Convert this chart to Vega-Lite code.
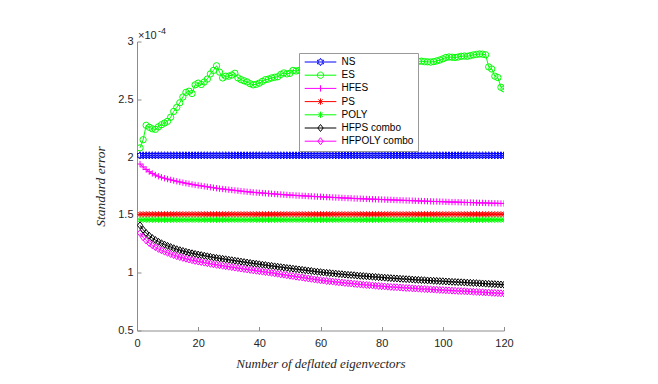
{
"$schema": "https://vega.github.io/schema/vega-lite/v6.json",
"width": 367, "height": 289,
"autosize": "none",
"padding": {"left": 137, "top": 41.5, "right": 154, "bottom": 53.5},
"background": "white",
"config": {"view": {"stroke": null}, "font": "Liberation Sans"},
"data": {"values": [
{"x":1,"NS":2.015,"ES":2.080,"HFES":1.940,"PS":1.505,"POLY":1.458,"HFPS combo":1.410,"HFPOLY combo":1.343},
{"x":2,"NS":2.015,"ES":2.150,"HFES":1.915,"PS":1.505,"POLY":1.458,"HFPS combo":1.372,"HFPOLY combo":1.306},
{"x":3,"NS":2.015,"ES":2.275,"HFES":1.893,"PS":1.505,"POLY":1.458,"HFPS combo":1.343,"HFPOLY combo":1.278},
{"x":4,"NS":2.015,"ES":2.258,"HFES":1.874,"PS":1.505,"POLY":1.458,"HFPS combo":1.320,"HFPOLY combo":1.256},
{"x":5,"NS":2.015,"ES":2.245,"HFES":1.858,"PS":1.505,"POLY":1.458,"HFPS combo":1.300,"HFPOLY combo":1.237},
{"x":6,"NS":2.015,"ES":2.240,"HFES":1.845,"PS":1.505,"POLY":1.458,"HFPS combo":1.283,"HFPOLY combo":1.221},
{"x":7,"NS":2.015,"ES":2.262,"HFES":1.834,"PS":1.505,"POLY":1.458,"HFPS combo":1.268,"HFPOLY combo":1.206},
{"x":8,"NS":2.015,"ES":2.280,"HFES":1.825,"PS":1.505,"POLY":1.458,"HFPS combo":1.255,"HFPOLY combo":1.194},
{"x":9,"NS":2.015,"ES":2.295,"HFES":1.817,"PS":1.505,"POLY":1.458,"HFPS combo":1.243,"HFPOLY combo":1.182},
{"x":10,"NS":2.015,"ES":2.310,"HFES":1.810,"PS":1.505,"POLY":1.458,"HFPS combo":1.232,"HFPOLY combo":1.172},
{"x":11,"NS":2.015,"ES":2.345,"HFES":1.803,"PS":1.505,"POLY":1.458,"HFPS combo":1.222,"HFPOLY combo":1.162},
{"x":12,"NS":2.015,"ES":2.395,"HFES":1.797,"PS":1.505,"POLY":1.458,"HFPS combo":1.212,"HFPOLY combo":1.152},
{"x":13,"NS":2.015,"ES":2.430,"HFES":1.791,"PS":1.505,"POLY":1.458,"HFPS combo":1.203,"HFPOLY combo":1.143},
{"x":14,"NS":2.015,"ES":2.470,"HFES":1.785,"PS":1.505,"POLY":1.458,"HFPS combo":1.195,"HFPOLY combo":1.135},
{"x":15,"NS":2.015,"ES":2.520,"HFES":1.779,"PS":1.505,"POLY":1.458,"HFPS combo":1.188,"HFPOLY combo":1.128},
{"x":16,"NS":2.015,"ES":2.560,"HFES":1.774,"PS":1.505,"POLY":1.458,"HFPS combo":1.181,"HFPOLY combo":1.121},
{"x":17,"NS":2.015,"ES":2.570,"HFES":1.769,"PS":1.505,"POLY":1.458,"HFPS combo":1.174,"HFPOLY combo":1.114},
{"x":18,"NS":2.015,"ES":2.550,"HFES":1.764,"PS":1.505,"POLY":1.458,"HFPS combo":1.168,"HFPOLY combo":1.108},
{"x":19,"NS":2.015,"ES":2.625,"HFES":1.759,"PS":1.505,"POLY":1.458,"HFPS combo":1.162,"HFPOLY combo":1.102},
{"x":20,"NS":2.015,"ES":2.640,"HFES":1.755,"PS":1.505,"POLY":1.458,"HFPS combo":1.157,"HFPOLY combo":1.097},
{"x":21,"NS":2.015,"ES":2.628,"HFES":1.751,"PS":1.505,"POLY":1.458,"HFPS combo":1.152,"HFPOLY combo":1.092},
{"x":22,"NS":2.015,"ES":2.650,"HFES":1.747,"PS":1.505,"POLY":1.458,"HFPS combo":1.147,"HFPOLY combo":1.087},
{"x":23,"NS":2.015,"ES":2.675,"HFES":1.743,"PS":1.505,"POLY":1.458,"HFPS combo":1.142,"HFPOLY combo":1.082},
{"x":24,"NS":2.015,"ES":2.720,"HFES":1.739,"PS":1.505,"POLY":1.458,"HFPS combo":1.137,"HFPOLY combo":1.077},
{"x":25,"NS":2.015,"ES":2.750,"HFES":1.735,"PS":1.505,"POLY":1.458,"HFPS combo":1.132,"HFPOLY combo":1.072},
{"x":26,"NS":2.015,"ES":2.790,"HFES":1.731,"PS":1.505,"POLY":1.458,"HFPS combo":1.128,"HFPOLY combo":1.068},
{"x":27,"NS":2.015,"ES":2.735,"HFES":1.727,"PS":1.505,"POLY":1.458,"HFPS combo":1.124,"HFPOLY combo":1.064},
{"x":28,"NS":2.015,"ES":2.685,"HFES":1.724,"PS":1.505,"POLY":1.458,"HFPS combo":1.120,"HFPOLY combo":1.060},
{"x":29,"NS":2.015,"ES":2.700,"HFES":1.721,"PS":1.505,"POLY":1.458,"HFPS combo":1.116,"HFPOLY combo":1.056},
{"x":30,"NS":2.015,"ES":2.700,"HFES":1.718,"PS":1.505,"POLY":1.458,"HFPS combo":1.112,"HFPOLY combo":1.052},
{"x":31,"NS":2.015,"ES":2.710,"HFES":1.715,"PS":1.505,"POLY":1.458,"HFPS combo":1.108,"HFPOLY combo":1.048},
{"x":32,"NS":2.015,"ES":2.725,"HFES":1.712,"PS":1.505,"POLY":1.458,"HFPS combo":1.104,"HFPOLY combo":1.044},
{"x":33,"NS":2.015,"ES":2.685,"HFES":1.709,"PS":1.505,"POLY":1.458,"HFPS combo":1.100,"HFPOLY combo":1.040},
{"x":34,"NS":2.015,"ES":2.670,"HFES":1.706,"PS":1.505,"POLY":1.458,"HFPS combo":1.096,"HFPOLY combo":1.036},
{"x":35,"NS":2.015,"ES":2.660,"HFES":1.703,"PS":1.505,"POLY":1.458,"HFPS combo":1.092,"HFPOLY combo":1.032},
{"x":36,"NS":2.015,"ES":2.650,"HFES":1.700,"PS":1.505,"POLY":1.458,"HFPS combo":1.088,"HFPOLY combo":1.028},
{"x":37,"NS":2.015,"ES":2.635,"HFES":1.698,"PS":1.505,"POLY":1.458,"HFPS combo":1.084,"HFPOLY combo":1.024},
{"x":38,"NS":2.015,"ES":2.625,"HFES":1.695,"PS":1.505,"POLY":1.458,"HFPS combo":1.080,"HFPOLY combo":1.020},
{"x":39,"NS":2.015,"ES":2.630,"HFES":1.693,"PS":1.505,"POLY":1.458,"HFPS combo":1.077,"HFPOLY combo":1.017},
{"x":40,"NS":2.015,"ES":2.640,"HFES":1.691,"PS":1.505,"POLY":1.458,"HFPS combo":1.073,"HFPOLY combo":1.013},
{"x":41,"NS":2.015,"ES":2.655,"HFES":1.689,"PS":1.505,"POLY":1.458,"HFPS combo":1.069,"HFPOLY combo":1.009},
{"x":42,"NS":2.015,"ES":2.670,"HFES":1.687,"PS":1.505,"POLY":1.458,"HFPS combo":1.066,"HFPOLY combo":1.006},
{"x":43,"NS":2.015,"ES":2.675,"HFES":1.685,"PS":1.505,"POLY":1.458,"HFPS combo":1.062,"HFPOLY combo":1.002},
{"x":44,"NS":2.015,"ES":2.685,"HFES":1.683,"PS":1.505,"POLY":1.458,"HFPS combo":1.059,"HFPOLY combo":0.999},
{"x":45,"NS":2.015,"ES":2.690,"HFES":1.681,"PS":1.505,"POLY":1.458,"HFPS combo":1.055,"HFPOLY combo":0.995},
{"x":46,"NS":2.015,"ES":2.695,"HFES":1.679,"PS":1.505,"POLY":1.458,"HFPS combo":1.052,"HFPOLY combo":0.991},
{"x":47,"NS":2.015,"ES":2.715,"HFES":1.677,"PS":1.505,"POLY":1.458,"HFPS combo":1.048,"HFPOLY combo":0.986},
{"x":48,"NS":2.015,"ES":2.728,"HFES":1.675,"PS":1.505,"POLY":1.458,"HFPS combo":1.045,"HFPOLY combo":0.983},
{"x":49,"NS":2.015,"ES":2.720,"HFES":1.673,"PS":1.505,"POLY":1.458,"HFPS combo":1.041,"HFPOLY combo":0.978},
{"x":50,"NS":2.015,"ES":2.725,"HFES":1.671,"PS":1.505,"POLY":1.458,"HFPS combo":1.038,"HFPOLY combo":0.974},
{"x":51,"NS":2.015,"ES":2.750,"HFES":1.670,"PS":1.505,"POLY":1.458,"HFPS combo":1.035,"HFPOLY combo":0.971},
{"x":52,"NS":2.015,"ES":2.745,"HFES":1.668,"PS":1.505,"POLY":1.458,"HFPS combo":1.031,"HFPOLY combo":0.966},
{"x":53,"NS":2.015,"ES":2.750,"HFES":1.667,"PS":1.505,"POLY":1.458,"HFPS combo":1.028,"HFPOLY combo":0.962},
{"x":54,"NS":2.015,"ES":2.755,"HFES":1.665,"PS":1.505,"POLY":1.458,"HFPS combo":1.025,"HFPOLY combo":0.959},
{"x":55,"NS":2.015,"ES":2.760,"HFES":1.664,"PS":1.505,"POLY":1.458,"HFPS combo":1.021,"HFPOLY combo":0.954},
{"x":56,"NS":2.015,"ES":2.752,"HFES":1.662,"PS":1.505,"POLY":1.458,"HFPS combo":1.018,"HFPOLY combo":0.950},
{"x":57,"NS":2.015,"ES":2.765,"HFES":1.661,"PS":1.505,"POLY":1.458,"HFPS combo":1.015,"HFPOLY combo":0.947},
{"x":58,"NS":2.015,"ES":2.770,"HFES":1.659,"PS":1.505,"POLY":1.458,"HFPS combo":1.011,"HFPOLY combo":0.942},
{"x":59,"NS":2.015,"ES":2.775,"HFES":1.658,"PS":1.505,"POLY":1.458,"HFPS combo":1.008,"HFPOLY combo":0.939},
{"x":60,"NS":2.015,"ES":2.768,"HFES":1.657,"PS":1.505,"POLY":1.458,"HFPS combo":1.005,"HFPOLY combo":0.935},
{"x":61,"NS":2.015,"ES":2.780,"HFES":1.655,"PS":1.505,"POLY":1.458,"HFPS combo":1.002,"HFPOLY combo":0.932},
{"x":62,"NS":2.015,"ES":2.785,"HFES":1.654,"PS":1.505,"POLY":1.458,"HFPS combo":0.999,"HFPOLY combo":0.928},
{"x":63,"NS":2.015,"ES":2.790,"HFES":1.653,"PS":1.505,"POLY":1.458,"HFPS combo":0.997,"HFPOLY combo":0.926},
{"x":64,"NS":2.015,"ES":2.782,"HFES":1.651,"PS":1.505,"POLY":1.458,"HFPS combo":0.994,"HFPOLY combo":0.923},
{"x":65,"NS":2.015,"ES":2.790,"HFES":1.650,"PS":1.505,"POLY":1.458,"HFPS combo":0.992,"HFPOLY combo":0.920},
{"x":66,"NS":2.015,"ES":2.795,"HFES":1.649,"PS":1.505,"POLY":1.458,"HFPS combo":0.989,"HFPOLY combo":0.917},
{"x":67,"NS":2.015,"ES":2.800,"HFES":1.647,"PS":1.505,"POLY":1.458,"HFPS combo":0.987,"HFPOLY combo":0.915},
{"x":68,"NS":2.015,"ES":2.793,"HFES":1.646,"PS":1.505,"POLY":1.458,"HFPS combo":0.984,"HFPOLY combo":0.911},
{"x":69,"NS":2.015,"ES":2.800,"HFES":1.645,"PS":1.505,"POLY":1.458,"HFPS combo":0.982,"HFPOLY combo":0.909},
{"x":70,"NS":2.015,"ES":2.805,"HFES":1.644,"PS":1.505,"POLY":1.458,"HFPS combo":0.980,"HFPOLY combo":0.907},
{"x":71,"NS":2.015,"ES":2.810,"HFES":1.642,"PS":1.505,"POLY":1.458,"HFPS combo":0.978,"HFPOLY combo":0.904},
{"x":72,"NS":2.015,"ES":2.803,"HFES":1.641,"PS":1.505,"POLY":1.458,"HFPS combo":0.975,"HFPOLY combo":0.901},
{"x":73,"NS":2.015,"ES":2.808,"HFES":1.640,"PS":1.505,"POLY":1.458,"HFPS combo":0.973,"HFPOLY combo":0.899},
{"x":74,"NS":2.015,"ES":2.812,"HFES":1.639,"PS":1.505,"POLY":1.458,"HFPS combo":0.971,"HFPOLY combo":0.896},
{"x":75,"NS":2.015,"ES":2.815,"HFES":1.638,"PS":1.505,"POLY":1.458,"HFPS combo":0.969,"HFPOLY combo":0.894},
{"x":76,"NS":2.015,"ES":2.808,"HFES":1.637,"PS":1.505,"POLY":1.458,"HFPS combo":0.967,"HFPOLY combo":0.892},
{"x":77,"NS":2.015,"ES":2.812,"HFES":1.636,"PS":1.505,"POLY":1.458,"HFPS combo":0.965,"HFPOLY combo":0.890},
{"x":78,"NS":2.015,"ES":2.818,"HFES":1.635,"PS":1.505,"POLY":1.458,"HFPS combo":0.963,"HFPOLY combo":0.887},
{"x":79,"NS":2.015,"ES":2.820,"HFES":1.634,"PS":1.505,"POLY":1.458,"HFPS combo":0.961,"HFPOLY combo":0.885},
{"x":80,"NS":2.015,"ES":2.815,"HFES":1.633,"PS":1.505,"POLY":1.458,"HFPS combo":0.959,"HFPOLY combo":0.883},
{"x":81,"NS":2.015,"ES":2.820,"HFES":1.632,"PS":1.505,"POLY":1.458,"HFPS combo":0.957,"HFPOLY combo":0.881},
{"x":82,"NS":2.015,"ES":2.822,"HFES":1.631,"PS":1.505,"POLY":1.458,"HFPS combo":0.955,"HFPOLY combo":0.879},
{"x":83,"NS":2.015,"ES":2.825,"HFES":1.630,"PS":1.505,"POLY":1.458,"HFPS combo":0.953,"HFPOLY combo":0.877},
{"x":84,"NS":2.015,"ES":2.820,"HFES":1.629,"PS":1.505,"POLY":1.458,"HFPS combo":0.951,"HFPOLY combo":0.875},
{"x":85,"NS":2.015,"ES":2.823,"HFES":1.628,"PS":1.505,"POLY":1.458,"HFPS combo":0.950,"HFPOLY combo":0.874},
{"x":86,"NS":2.015,"ES":2.826,"HFES":1.627,"PS":1.505,"POLY":1.458,"HFPS combo":0.948,"HFPOLY combo":0.872},
{"x":87,"NS":2.015,"ES":2.828,"HFES":1.626,"PS":1.505,"POLY":1.458,"HFPS combo":0.946,"HFPOLY combo":0.870},
{"x":88,"NS":2.015,"ES":2.824,"HFES":1.625,"PS":1.505,"POLY":1.458,"HFPS combo":0.944,"HFPOLY combo":0.868},
{"x":89,"NS":2.015,"ES":2.826,"HFES":1.624,"PS":1.505,"POLY":1.458,"HFPS combo":0.943,"HFPOLY combo":0.867},
{"x":90,"NS":2.015,"ES":2.828,"HFES":1.623,"PS":1.505,"POLY":1.458,"HFPS combo":0.941,"HFPOLY combo":0.865},
{"x":91,"NS":2.015,"ES":2.826,"HFES":1.622,"PS":1.505,"POLY":1.458,"HFPS combo":0.939,"HFPOLY combo":0.863},
{"x":92,"NS":2.015,"ES":2.828,"HFES":1.621,"PS":1.505,"POLY":1.458,"HFPS combo":0.938,"HFPOLY combo":0.862},
{"x":93,"NS":2.015,"ES":2.830,"HFES":1.620,"PS":1.505,"POLY":1.458,"HFPS combo":0.936,"HFPOLY combo":0.860},
{"x":94,"NS":2.015,"ES":2.826,"HFES":1.619,"PS":1.505,"POLY":1.458,"HFPS combo":0.935,"HFPOLY combo":0.859},
{"x":95,"NS":2.015,"ES":2.824,"HFES":1.618,"PS":1.505,"POLY":1.458,"HFPS combo":0.933,"HFPOLY combo":0.857},
{"x":96,"NS":2.015,"ES":2.822,"HFES":1.617,"PS":1.505,"POLY":1.458,"HFPS combo":0.932,"HFPOLY combo":0.856},
{"x":97,"NS":2.015,"ES":2.826,"HFES":1.616,"PS":1.505,"POLY":1.458,"HFPS combo":0.930,"HFPOLY combo":0.854},
{"x":98,"NS":2.015,"ES":2.832,"HFES":1.616,"PS":1.505,"POLY":1.458,"HFPS combo":0.929,"HFPOLY combo":0.853},
{"x":99,"NS":2.015,"ES":2.840,"HFES":1.615,"PS":1.505,"POLY":1.458,"HFPS combo":0.927,"HFPOLY combo":0.851},
{"x":100,"NS":2.015,"ES":2.850,"HFES":1.614,"PS":1.505,"POLY":1.458,"HFPS combo":0.926,"HFPOLY combo":0.850},
{"x":101,"NS":2.015,"ES":2.862,"HFES":1.613,"PS":1.505,"POLY":1.458,"HFPS combo":0.924,"HFPOLY combo":0.848},
{"x":102,"NS":2.015,"ES":2.866,"HFES":1.612,"PS":1.505,"POLY":1.458,"HFPS combo":0.923,"HFPOLY combo":0.847},
{"x":103,"NS":2.015,"ES":2.864,"HFES":1.611,"PS":1.505,"POLY":1.458,"HFPS combo":0.921,"HFPOLY combo":0.845},
{"x":104,"NS":2.015,"ES":2.862,"HFES":1.611,"PS":1.505,"POLY":1.458,"HFPS combo":0.920,"HFPOLY combo":0.844},
{"x":105,"NS":2.015,"ES":2.866,"HFES":1.610,"PS":1.505,"POLY":1.458,"HFPS combo":0.918,"HFPOLY combo":0.842},
{"x":106,"NS":2.015,"ES":2.872,"HFES":1.609,"PS":1.505,"POLY":1.458,"HFPS combo":0.917,"HFPOLY combo":0.841},
{"x":107,"NS":2.015,"ES":2.874,"HFES":1.608,"PS":1.505,"POLY":1.458,"HFPS combo":0.916,"HFPOLY combo":0.840},
{"x":108,"NS":2.015,"ES":2.872,"HFES":1.607,"PS":1.505,"POLY":1.458,"HFPS combo":0.914,"HFPOLY combo":0.838},
{"x":109,"NS":2.015,"ES":2.878,"HFES":1.607,"PS":1.505,"POLY":1.458,"HFPS combo":0.913,"HFPOLY combo":0.837},
{"x":110,"NS":2.015,"ES":2.884,"HFES":1.606,"PS":1.505,"POLY":1.458,"HFPS combo":0.911,"HFPOLY combo":0.835},
{"x":111,"NS":2.015,"ES":2.888,"HFES":1.605,"PS":1.505,"POLY":1.458,"HFPS combo":0.910,"HFPOLY combo":0.834},
{"x":112,"NS":2.015,"ES":2.892,"HFES":1.604,"PS":1.505,"POLY":1.458,"HFPS combo":0.908,"HFPOLY combo":0.832},
{"x":113,"NS":2.015,"ES":2.890,"HFES":1.604,"PS":1.505,"POLY":1.458,"HFPS combo":0.907,"HFPOLY combo":0.831},
{"x":114,"NS":2.015,"ES":2.885,"HFES":1.603,"PS":1.505,"POLY":1.458,"HFPS combo":0.905,"HFPOLY combo":0.829},
{"x":115,"NS":2.015,"ES":2.780,"HFES":1.602,"PS":1.505,"POLY":1.458,"HFPS combo":0.904,"HFPOLY combo":0.828},
{"x":116,"NS":2.015,"ES":2.762,"HFES":1.601,"PS":1.505,"POLY":1.458,"HFPS combo":0.902,"HFPOLY combo":0.826},
{"x":117,"NS":2.015,"ES":2.700,"HFES":1.601,"PS":1.505,"POLY":1.458,"HFPS combo":0.901,"HFPOLY combo":0.825},
{"x":118,"NS":2.015,"ES":2.688,"HFES":1.600,"PS":1.505,"POLY":1.458,"HFPS combo":0.899,"HFPOLY combo":0.823},
{"x":119,"NS":2.015,"ES":2.604,"HFES":1.599,"PS":1.505,"POLY":1.458,"HFPS combo":0.898,"HFPOLY combo":0.822},
{"x":120,"NS":2.015,"ES":2.590,"HFES":1.599,"PS":1.505,"POLY":1.458,"HFPS combo":0.896,"HFPOLY combo":0.820}
]},
"layer": [
{
"transform": [{"fold": ["NS","ES","HFES","PS","POLY","HFPS combo","HFPOLY combo"], "as": ["series","value"]}],
"mark": {"type": "line", "strokeWidth": 1, "clip": true},
"encoding": {
"x": {"field": "x", "type": "quantitative", "scale": {"domain": [0,120], "nice": false},
 "axis": {"values": [0,20,40,60,80,100,120], "title": "Number of deflated eigenvectors", "titleFont": "Liberation Serif", "titleFontStyle": "italic", "titleFontWeight": "normal", "titleFontSize": 13, "titleColor": "#262626", "titlePadding": 9, "labelFont": "Liberation Sans", "labelFontSize": 11, "labelColor": "#262626", "tickSize": -4, "tickColor": "#8c8c8c", "domainColor": "#8c8c8c", "labelPadding": 11, "grid": false, "labelFlush": false}},
"y": {"field": "value", "type": "quantitative", "scale": {"domain": [0.5,3], "nice": false, "zero": false},
 "axis": {"values": [0.5,1,1.5,2,2.5,3], "format": "~g", "title": "Standard error", "titleFont": "Liberation Serif", "titleFontStyle": "italic", "titleFontWeight": "normal", "titleFontSize": 13.5, "titleColor": "#262626", "titlePadding": 10, "labelFont": "Liberation Sans", "labelFontSize": 11, "labelColor": "#262626", "tickSize": -4, "tickColor": "#8c8c8c", "domainColor": "#8c8c8c", "labelPadding": 8, "grid": false}},
"color": {"field": "series", "type": "nominal",
 "scale": {"domain": ["NS","ES","HFES","PS","POLY","HFPS combo","HFPOLY combo"], "range": ["#0000ff","#00ff00","#ff00ff","#ff0000","#00ff00","#000000","#ff00ff"]},
 "legend": {"title": null, "orient": "none", "legendX": 162, "legendY": 11.5, "fillColor": "white", "strokeColor": "#999999", "padding": 4, "rowPadding": 1.2, "labelFont": "Liberation Sans", "labelFontSize": 10, "labelColor": "#000000", "symbolSize": 40, "symbolStrokeWidth": 1, "symbolOffset": 12.5, "labelOffset": 16,
  "encoding": {"symbols": {"fill": {"value": "transparent"}, "strokeWidth": {"value": 1}, "shape": {"value": {"expr": "datum.value==='NS'?'M-5,0H5M0,-1.15L0.332,-0.575L0.996,-0.575L0.664,0L0.996,0.575L0.332,0.575L0,1.15L-0.332,0.575L-0.996,0.575L-0.664,0L-0.996,-0.575L-0.332,-0.575Z':datum.value==='ES'?'M-5,0H5M1,0C1,0.552,0.552,1,0,1C-0.552,1,-1,0.552,-1,0C-1,-0.552,-0.552,-1,0,-1C0.552,-1,1,-0.552,1,0Z':datum.value==='HFES'?'M-5,0H5M0,-1V1':(datum.value==='PS'||datum.value==='POLY')?'M-5,0H5M0,-1V1M-0.71,-0.71L0.71,0.71M-0.71,0.71L0.71,-0.71':'M-5,0H5M0,-1.1L0.85,0L0,1.1L-0.85,0Z'"}}}}}}
}
},
{
"transform": [{"fold": ["NS","ES","HFES","PS","POLY","HFPS combo","HFPOLY combo"], "as": ["series","value"]}],
"mark": {"type": "point", "filled": false, "size": 40, "strokeWidth": 1, "opacity": 1, "clip": true},
"encoding": {
"x": {"field": "x", "type": "quantitative"},
"y": {"field": "value", "type": "quantitative"},
"color": {"field": "series", "type": "nominal", "legend": null},
"shape": {"field": "series", "type": "nominal", "legend": null,
 "scale": {"domain": ["HFPOLY combo","HFPS combo","POLY","PS","HFES","ES","NS"], "range": ["M0,-1.1L0.85,0L0,1.1L-0.85,0Z","M0,-1.1L0.85,0L0,1.1L-0.85,0Z","M-1,0H1M0,-1V1M-0.71,-0.71L0.71,0.71M-0.71,0.71L0.71,-0.71","M-1,0H1M0,-1V1M-0.71,-0.71L0.71,0.71M-0.71,0.71L0.71,-0.71","M-1,0H1M0,-1V1","circle","M0,-1.15L0.332,-0.575L0.996,-0.575L0.664,0L0.996,0.575L0.332,0.575L0,1.15L-0.332,0.575L-0.996,0.575L-0.664,0L-0.996,-0.575L-0.332,-0.575Z"]}}
}
},
{
"data": {"values": [{"label": "×10"}]},
"mark": {"type": "text", "align": "left", "baseline": "alphabetic", "dx": 1, "dy": -3, "fontSize": 11, "font": "Liberation Sans", "color": "#262626"},
"encoding": {"x": {"datum": 0, "type": "quantitative"}, "y": {"datum": 3, "type": "quantitative"}, "text": {"field": "label"}}
},
{
"data": {"values": [{"label": "-4"}]},
"mark": {"type": "text", "align": "left", "baseline": "alphabetic", "dx": 21, "dy": -8, "fontSize": 9, "font": "Liberation Sans", "color": "#262626"},
"encoding": {"x": {"datum": 0, "type": "quantitative"}, "y": {"datum": 3, "type": "quantitative"}, "text": {"field": "label"}}
}
]
}
